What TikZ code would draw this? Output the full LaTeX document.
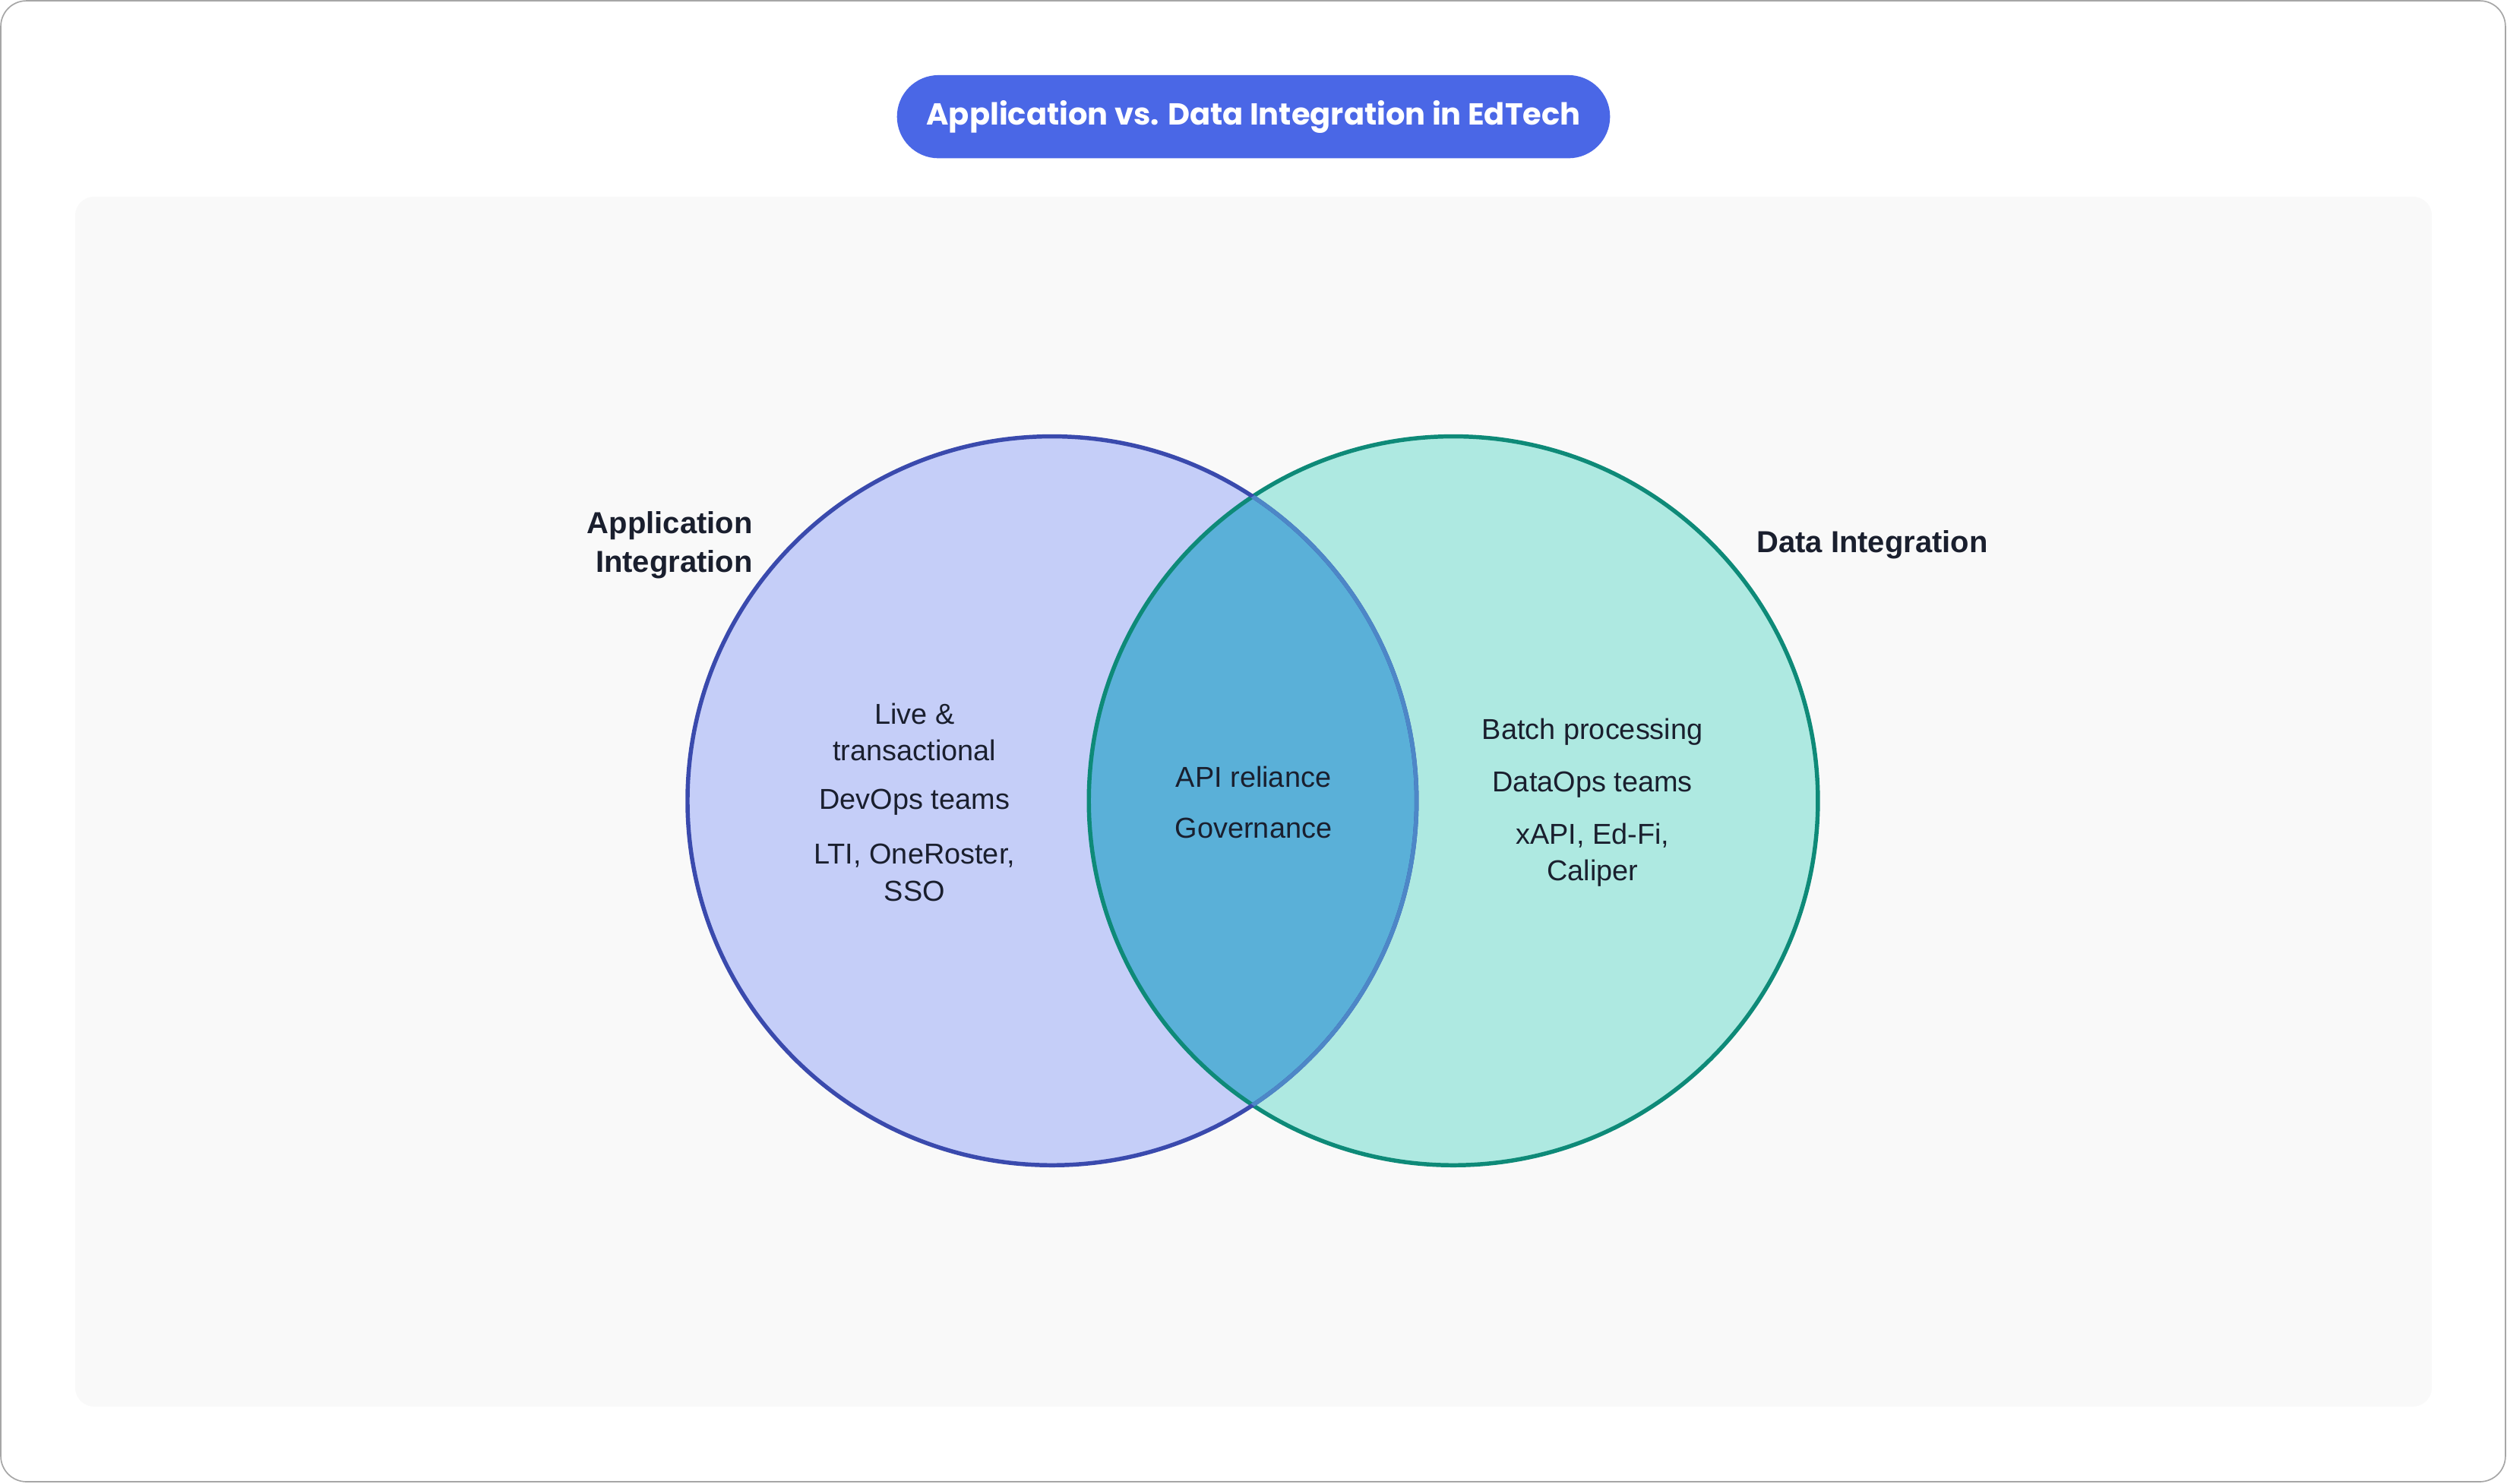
\documentclass[tikz,border=0pt]{standalone}
\usepackage{fontspec}
\setmainfont{Liberation Sans}
\newfontfamily\titlefont{Poppins}
\definecolor{pill}{HTML}{4A67E6}
\definecolor{panel}{HTML}{F9F9F9}
\definecolor{lfill}{HTML}{C5CEF8}
\definecolor{lstroke}{HTML}{3A4AAD}
\definecolor{rfill}{HTML}{AEE9E1}
\definecolor{rstroke}{HTML}{0E8A78}
\definecolor{mid}{HTML}{5AB0D8}
\definecolor{txt}{HTML}{1A1F2E}
\begin{document}
\begin{tikzpicture}[x=0.5pt,y=-0.5pt,
  body/.style={font=\fontsize{9}{11.5}\selectfont,text=txt,align=center},
  head/.style={font=\fontsize{9.5}{12}\selectfont\bfseries,text=txt,align=center}]
\useasboundingbox (0,0) rectangle (1568,928);
\draw[draw=gray!70,fill=white,rounded corners=8pt] (0.5,0.5) rectangle (1567,927);
\fill[panel,rounded corners=6pt] (47,123) rectangle (1521,880);
\node[fill=pill,rounded corners=13pt,minimum width=223pt,minimum height=26pt,text=white,font=\titlefont\fontsize{9.5}{12}\selectfont\bfseries] (title) at (784,73) {Application vs. Data Integration in EdTech};
\fill[lfill] (658,501) circle (228);
\fill[rfill] (909,501) circle (228);
\begin{scope}
\clip (658,501) circle (228);
\fill[mid] (909,501) circle (228);
\end{scope}
\draw[rstroke,line width=1.3pt] (909,501) circle (228);
\draw[lstroke,line width=1.3pt] (658,501) circle (228);
\begin{scope}
\clip (909,501) circle (228);
\draw[color=mid!60!lstroke,line width=1.3pt] (658,501) circle (228);
\end{scope}
\node[head] (la) at (419,341) {Application\\\ Integration};
\node[head] (ra) at (1171,341) {Data Integration};
\node[body] (l1) at (572,458) {Live \&\\transactional};
\node[body] (l2) at (572,502) {DevOps teams};
\node[body] (l3) at (572,546) {LTI, OneRoster,\\SSO};
\node[body] (m1) at (784,486) {API reliance};
\node[body] (m2) at (784,518) {Governance};
\node[body] (r1) at (996,458) {Batch processing};
\node[body] (r2) at (996,491) {DataOps teams};
\node[body] (r3) at (996,535) {xAPI, Ed-Fi,\\Caliper};
\end{tikzpicture}
\end{document}
